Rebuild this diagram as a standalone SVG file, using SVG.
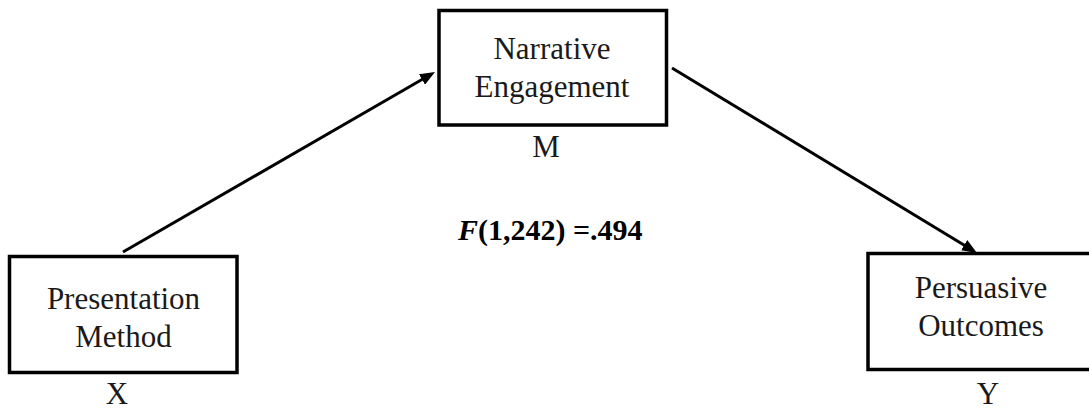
<svg xmlns="http://www.w3.org/2000/svg" width="1089" height="412" viewBox="0 0 1089 412">
  <style>
    .box { fill: #ffffff; stroke: #000000; stroke-width: 3.5; }
    .lbl { font-family: "Liberation Serif", "Times New Roman", serif; font-size: 31px; fill: #1a1a1a; text-anchor: middle; }
    .edge { stroke: #000000; stroke-width: 3; fill: none; }
    .stat { font-family: "Liberation Serif", "Times New Roman", serif; font-size: 30px; font-weight: bold; fill: #000000; }
  </style>
  <defs>
    <marker id="arrow" viewBox="0 0 10 8" markerWidth="15" markerHeight="12" refX="4" refY="4" orient="auto" markerUnits="userSpaceOnUse">
      <path d="M0,0 L10,4 L0,8 z" fill="#000000"/>
    </marker>
  </defs>
  <rect width="1089" height="412" fill="#ffffff"/>

  <!-- connectors -->
  <g id="connectors">
    <line class="edge" x1="123" y1="252" x2="427.2" y2="76.5" marker-end="url(#arrow)"/>
    <line class="edge" x1="672" y1="68" x2="969.3" y2="248.3" marker-end="url(#arrow)"/>
  </g>

  <!-- mediator -->
  <g id="node-m">
    <rect class="box" x="439" y="10.5" width="227.5" height="114.5"/>
    <text class="lbl" x="552" y="59">Narrative</text>
    <text class="lbl" x="552" y="97">Engagement</text>
    <text class="lbl" x="546" y="157">M</text>
  </g>

  <!-- predictor -->
  <g id="node-x">
    <rect class="box" x="9.5" y="256.5" width="227.5" height="116"/>
    <text class="lbl" x="123.5" y="309">Presentation</text>
    <text class="lbl" x="123.5" y="347">Method</text>
    <text class="lbl" x="117" y="404">X</text>
  </g>

  <!-- outcome -->
  <g id="node-y">
    <rect class="box" x="868" y="253.5" width="230" height="116"/>
    <text class="lbl" x="981" y="298">Persuasive</text>
    <text class="lbl" x="981" y="336">Outcomes</text>
    <text class="lbl" x="988" y="404">Y</text>
  </g>

  <!-- test statistic -->
  <g id="stat">
    <text class="stat" x="458" y="240"><tspan font-style="italic">F</tspan>(1,242) =.494</text>
  </g>
</svg>
